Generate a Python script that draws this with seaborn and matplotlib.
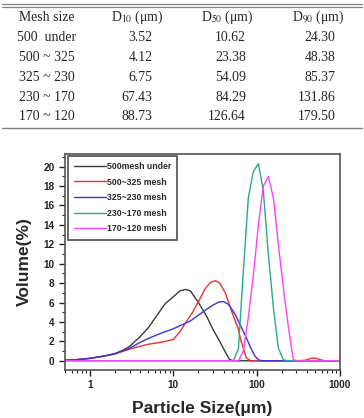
import numpy as np
import pandas as pd
import matplotlib
matplotlib.use('Agg')
import matplotlib.pyplot as plt
import matplotlib.ticker as mticker
from matplotlib.lines import Line2D
import seaborn as sns

# table data
mesh_sizes = ['500  under', '500 ~ 325', '325 ~ 230', '230 ~ 170', '170 ~ 120']
d10 = ['3.52', '4.12', '6.75', '67.43', '88.73']
d50 = ['10.62', '23.38', '54.09', '84.29', '126.64']
d90 = ['24.30', '48.38', '85.37', '131.86', '179.50']

# curve data (particle size in um, volume %)
labels = ['500mesh under', '500~325 mesh', '325~230 mesh', '230~170 mesh', '170~120 mesh']
colors = ['#3a3a3a', '#f03030', '#3535e0', '#2aa890', '#ff40ff']

x_500 = [0.5, 0.7, 1, 1.5, 2, 2.5, 3, 4, 5, 6.5, 8, 10, 12, 14, 16, 20, 25, 30, 36, 42, 47, 52, 60, 1000]
y_500 = [0.05, 0.12, 0.25, 0.5, 0.75, 1.1, 1.5, 2.5, 3.4, 4.8, 5.9, 6.6, 7.2, 7.35, 7.2, 6.0, 4.6, 3.2, 2.0, 0.9, 0.15, 0, 0, 0]

x_325 = [0.5, 0.7, 1, 1.5, 2, 3, 4, 5, 6.5, 8, 10, 12, 14, 17, 20, 24, 28, 32, 36, 42, 50, 60, 65, 75, 85,
         300, 380, 450, 500, 560, 650, 1000]
y_325 = [0.05, 0.12, 0.25, 0.5, 0.72, 1.2, 1.5, 1.7, 1.85, 2.0, 2.2, 3.0, 3.9, 5.0, 6.1, 7.4, 8.1, 8.25, 8.0, 7.0, 5.1, 3.3, 2.0, 0.3, 0,
         0, 0.05, 0.25, 0.28, 0.15, 0, 0]

x_230 = [0.5, 0.7, 1, 1.5, 2, 3, 4, 5, 6.5, 8, 10, 13, 16, 20, 25, 30, 35, 40, 46, 55, 65, 75, 85, 95, 105, 115, 1000]
y_230 = [0.05, 0.12, 0.25, 0.5, 0.72, 1.3, 1.9, 2.3, 2.7, 3.0, 3.3, 3.75, 4.1, 4.7, 5.3, 5.75, 6.05, 6.1, 5.8, 4.8, 3.5, 2.4, 1.3, 0.5, 0.1, 0, 0]

x_170 = [0.5, 52.5, 60.3, 69.2, 79.4, 91.2, 104.7, 120.2, 138.0, 158.5, 182.0, 208.9, 239.9, 1000]
y_170 = [0, 0, 1.2, 9.3, 16.8, 19.5, 20.3, 17.5, 11.0, 5.5, 1.3, 0.1, 0, 0]

x_120 = [0.5, 60.3, 69.2, 79.4, 91.2, 104.7, 120.2, 138.0, 158.5, 182.0, 208.9, 239.9, 275.4, 316.2, 1000]
y_120 = [0, 0, 1.0, 4.5, 8.8, 14.0, 18.0, 19.0, 16.8, 12.0, 7.5, 3.5, 0.1, 0, 0]

series_x = [x_500, x_325, x_230, x_170, x_120]
series_y = [y_500, y_325, y_230, y_170, y_120]

sns.set_style('ticks')
plt.rcParams['font.family'] = ['Liberation Sans', 'DejaVu Sans']
plt.rcParams['mathtext.fontset'] = 'stix'

W, H = 364, 418
fig = plt.figure(figsize=(W / 100, H / 100), dpi=100)


def fx(px):
    return px / W


def fy(py):
    return 1 - py / H


# ---- table ----
serif = ['Liberation Serif', 'DejaVu Serif']
tsize = 9.9
for yy in (4.0, 6.6):
    fig.add_artist(Line2D([fx(2), fx(362)], [fy(yy), fy(yy)], color='#808080', lw=0.9))
fig.add_artist(Line2D([fx(2), fx(362)], [fy(127.7), fy(127.7)], color='#808080', lw=1.0))

header_y = 17.3
fig.text(fx(47), fy(header_y), 'Mesh size', ha='center', va='center', family=serif, fontsize=tsize)
fig.text(fx(137), fy(header_y), r'D$_{10}$ (μm)', ha='center', va='center', family=serif, fontsize=tsize)
fig.text(fx(227), fy(header_y), r'D$_{50}$ (μm)', ha='center', va='center', family=serif, fontsize=tsize)
fig.text(fx(318), fy(header_y), r'D$_{90}$ (μm)', ha='center', va='center', family=serif, fontsize=tsize)

row_y = [37.3, 57.3, 77.3, 97.3, 117.0]
for i, ry in enumerate(row_y):
    fig.text(fx(47), fy(ry), mesh_sizes[i], ha='center', va='center', family=serif, fontsize=tsize)
    fig.text(fx(152.5), fy(ry), d10[i], ha='right', va='center', family=serif, fontsize=tsize)
    fig.text(fx(246), fy(ry), d50[i], ha='right', va='center', family=serif, fontsize=tsize)
    fig.text(fx(335.5), fy(ry), d90[i], ha='right', va='center', family=serif, fontsize=tsize)

# ---- plot ----
ax = fig.add_axes([fx(65), fy(370), (340 - 65) / W, (370 - 154) / H])

for xs, ys, lab, col in zip(series_x, series_y, labels, colors):
    df = pd.DataFrame({'size': xs, 'volume': ys})
    sns.lineplot(data=df, x='size', y='volume', ax=ax, color=col, lw=1.0,
                 label=lab, sort=False, estimator=None)

ax.set_xscale('log')
ax.set_xlim(0.5, 1000)
ax.set_ylim(-0.95, 21.3)
ax.set_yticks(np.arange(0, 21, 2))
ax.yaxis.set_minor_locator(mticker.MultipleLocator(1))
ax.xaxis.set_major_locator(mticker.FixedLocator([1, 10, 100, 1000]))
ax.xaxis.set_major_formatter(mticker.FuncFormatter(lambda v, p: '%d' % v))
ax.xaxis.set_minor_locator(mticker.LogLocator(base=10, subs=np.arange(2, 10)))
ax.xaxis.set_minor_formatter(mticker.NullFormatter())

ax.tick_params(axis='both', which='major', length=4, width=1, direction='out', labelsize=7.2,
               colors='#222222')
ax.tick_params(axis='both', which='minor', length=2, width=0.8, direction='out')
for lbl in ax.get_xticklabels() + ax.get_yticklabels():
    lbl.set_fontweight('bold')

for sp in ax.spines.values():
    sp.set_color('#555555')
    sp.set_linewidth(1.2)

ax.set_xlabel('Particle Size(μm)', fontsize=12.5, fontweight='bold', labelpad=7.5)
ax.set_ylabel('Volume(%)', fontsize=12.5, fontweight='bold', labelpad=8)

leg = ax.legend(loc='upper left', bbox_to_anchor=(0.012, 0.992), borderaxespad=0,
                fancybox=False, frameon=True, edgecolor='#333333',
                prop={'size': 6.3, 'weight': 'bold'}, handlelength=3.6, handletextpad=0.1,
                labelspacing=0.76, borderpad=0.7)
leg.get_frame().set_linewidth(1.3)

fig.savefig('out.png', dpi=100)
